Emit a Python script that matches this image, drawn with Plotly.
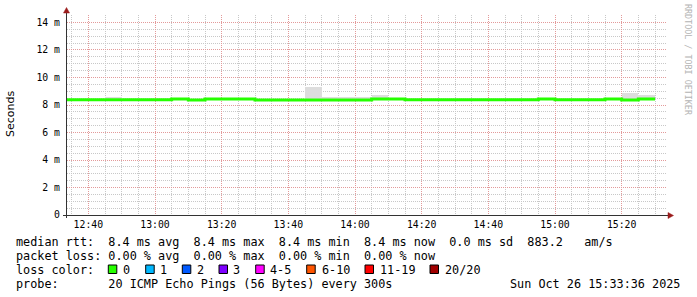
import plotly.graph_objects as go
from datetime import datetime, timedelta

# ---------------- data ----------------
DAY = "2025-10-26"
slot_start = ["12:30", "12:35", "12:40", "12:45", "12:50", "12:55",
              "13:00", "13:05", "13:10", "13:15", "13:20", "13:25",
              "13:30", "13:35", "13:40", "13:45", "13:50", "13:55",
              "14:00", "14:05", "14:10", "14:15", "14:20", "14:25",
              "14:30", "14:35", "14:40", "14:45", "14:50", "14:55",
              "15:00", "15:05", "15:10", "15:15", "15:20", "15:25"]
median_ms = [8.39, 8.39, 8.39, 8.39, 8.39, 8.39,
             8.39, 8.43, 8.36, 8.43, 8.43, 8.43,
             8.37, 8.37, 8.37, 8.37, 8.37, 8.37,
             8.37, 8.43, 8.43, 8.39, 8.39, 8.39,
             8.39, 8.39, 8.39, 8.39, 8.39, 8.43,
             8.39, 8.39, 8.39, 8.43, 8.36, 8.43]
smoke_max_ms = [8.39, 8.39, 8.39, 8.58, 8.39, 8.39,
                8.39, 8.43, 8.36, 8.43, 8.43, 8.43,
                8.37, 8.37, 8.37, 9.28, 8.60, 8.60,
                8.60, 8.70, 8.43, 8.39, 8.39, 8.39,
                8.39, 8.39, 8.39, 8.39, 8.39, 8.43,
                8.39, 8.39, 8.39, 8.43, 8.85, 8.70]
step_minutes = 5
view_start = "2025-10-26 12:33:36"
view_end = "2025-10-26 15:33:36"

y_tick_values = [0, 2, 4, 6, 8, 10, 12, 14]
y_tick_labels = ["0", "2 m", "4 m", "6 m", "8 m", "10 m", "12 m", "14 m"]

rtt_stats = [8.4, 8.4, 8.4, 8.4]      # avg, max, min, now (ms)
rtt_sd = 0.0
am_per_s = 883.2
loss_stats = [0.00, 0.00, 0.00, 0.00]  # avg, max, min, now (%)
loss_labels = ["0", "1", "2", "3", "4-5", "6-10", "11-19", "20/20"]
loss_colors = ["#26ff00", "#00b8ff", "#0059ff", "#7e00ff",
               "#ff00ff", "#ff5500", "#ff0000", "#a10000"]
probe_text = "20 ICMP Echo Pings (56 Bytes) every 300s"
stamp_text = "Sun Oct 26 15:33:36 2025"
watermark = "RRDTOOL / TOBI OETIKER"

# ---------------- derived ----------------
t_start = [datetime.strptime(f"{DAY} {s}", "%Y-%m-%d %H:%M") for s in slot_start]
t_end = t_start[-1] + timedelta(minutes=step_minutes)
line_x = t_start + [t_end]
line_y = median_ms + [median_ms[-1]]
smoke_h = [mx - md for mx, md in zip(smoke_max_ms, median_ms)]

W, H = 697, 297
L, R, T, B = 67, 30, 15, 82
PW, PH = W - L - R, H - T - B


def X(px):
    return (px - L) / PW


def Y(py):
    return (H - B - py) / PH


MONO = "DejaVu Sans Mono"

fig = go.Figure()
fig.add_trace(go.Bar(x=t_start, y=smoke_h, base=median_ms,
                     width=step_minutes * 60 * 1000, offset=0,
                     marker=dict(color="#dddddd", line=dict(width=0)),
                     hoverinfo="skip", showlegend=False))
fig.add_trace(go.Scatter(x=line_x, y=line_y, mode="lines",
                         line=dict(color="#26ff00", width=3, shape="hv"),
                         hoverinfo="skip", showlegend=False))

major_grid = "#e39a9a"
minor_grid = "#c8c8c8"
DASH = "1px,1px"

fig.update_layout(
    width=W, height=H, autosize=False,
    margin=dict(l=L, r=R, t=T, b=B, pad=0),
    paper_bgcolor="white", plot_bgcolor="white",
    barmode="overlay", bargap=0, showlegend=False, hovermode=False,
    xaxis=dict(type="date", range=[view_start, view_end],
               tick0="2025-10-26 12:40", dtick=20 * 60 * 1000,
               tickformat="%H:%M", showgrid=True, gridcolor=major_grid,
               griddash=DASH, gridwidth=1, showline=False, zeroline=False,
               ticks="", ticklabelstandoff=2,
               tickfont=dict(family=MONO, size=9.8, color="black"),
               minor=dict(dtick=step_minutes * 60 * 1000, showgrid=True,
                          gridcolor=minor_grid, griddash=DASH, gridwidth=1)),
    yaxis=dict(range=[0, 14.545], tickvals=y_tick_values, ticktext=y_tick_labels,
               showgrid=True, gridcolor=major_grid, griddash=DASH, gridwidth=1,
               showline=False, zeroline=False, ticks="", ticklabelstandoff=6,
               tickfont=dict(family=MONO, size=9.8, color="black"),
               minor=dict(dtick=0.5, showgrid=True, gridcolor=minor_grid,
                          griddash=DASH, gridwidth=1)),
)

shapes = []
# axes
shapes.append(dict(type="line", xref="paper", yref="paper",
                   x0=X(66.5), x1=X(66.5), y0=Y(218), y1=Y(12),
                   line=dict(color="#333333", width=1)))
shapes.append(dict(type="line", xref="paper", yref="paper",
                   x0=X(63), x1=X(669), y0=Y(215.5), y1=Y(215.5),
                   line=dict(color="#333333", width=1)))
# arrows
shapes.append(dict(type="path", xref="paper", yref="paper",
                   path=f"M {X(63.5)},{Y(13)} L {X(69.5)},{Y(13)} L {X(66.5)},{Y(7.5)} Z",
                   fillcolor="#9b1c1c", line=dict(color="#9b1c1c", width=0.5)))
shapes.append(dict(type="path", xref="paper", yref="paper",
                   path=f"M {X(668)},{Y(212.5)} L {X(668)},{Y(218.5)} L {X(673.5)},{Y(215.5)} Z",
                   fillcolor="#9b1c1c", line=dict(color="#9b1c1c", width=0.5)))

annotations = []


def add_text(txt, px, py, size=11.8, anchor="left", family=MONO, color="black", angle=0):
    annotations.append(dict(text=txt.replace(" ", "\u00a0"), xref="paper", yref="paper",
                            x=X(px), y=Y(py), xanchor=anchor, yanchor="middle",
                            showarrow=False, borderpad=0, borderwidth=0,
                            textangle=angle,
                            font=dict(family=family, size=size, color=color)))


a, mx, mn, nw = rtt_stats
line1 = (f"median rtt:  {a:.1f} ms avg  {mx:.1f} ms max  {mn:.1f} ms min  "
         f"{nw:.1f} ms now  {rtt_sd:.1f} ms sd  {am_per_s:.1f}   am/s")
la, lmx, lmn, lnw = loss_stats
line2 = (f"packet loss: {la:.2f} % avg  {lmx:.2f} % max  {lmn:.2f} % min  "
         f"{lnw:.2f} % now")
line4 = f"probe:       {probe_text}"
add_text(line1, 15.5, 241.5)
add_text(line2, 15.5, 255.5)
add_text("loss color:", 15.5, 269.5)
add_text(line4, 15.5, 283.5)
add_text(stamp_text, 680, 283.5, anchor="right")

box_x = [108.3, 145.7, 182.3, 219.0, 255.7, 306.7, 365.0, 430.0]
lab_x = [123.0, 160.0, 197.0, 233.0, 270.0, 322.0, 380.0, 445.0]
for bx, lx, lab, col in zip(box_x, lab_x, loss_labels, loss_colors):
    shapes.append(dict(type="rect", xref="paper", yref="paper",
                       x0=X(bx), x1=X(bx + 8.5), y0=Y(265), y1=Y(273.5),
                       fillcolor=col, line=dict(color="black", width=1)))
    add_text(lab, lx, 269.5)

# y title and watermark
add_text("Seconds", 10, 114, size=11, anchor="center", family="DejaVu Sans", angle=-90)
add_text(watermark, 688, 60, size=8.4, anchor="center", color="#b4b4b4", angle=90)

fig.update_layout(shapes=shapes, annotations=annotations)
fig.write_html("out.html")
